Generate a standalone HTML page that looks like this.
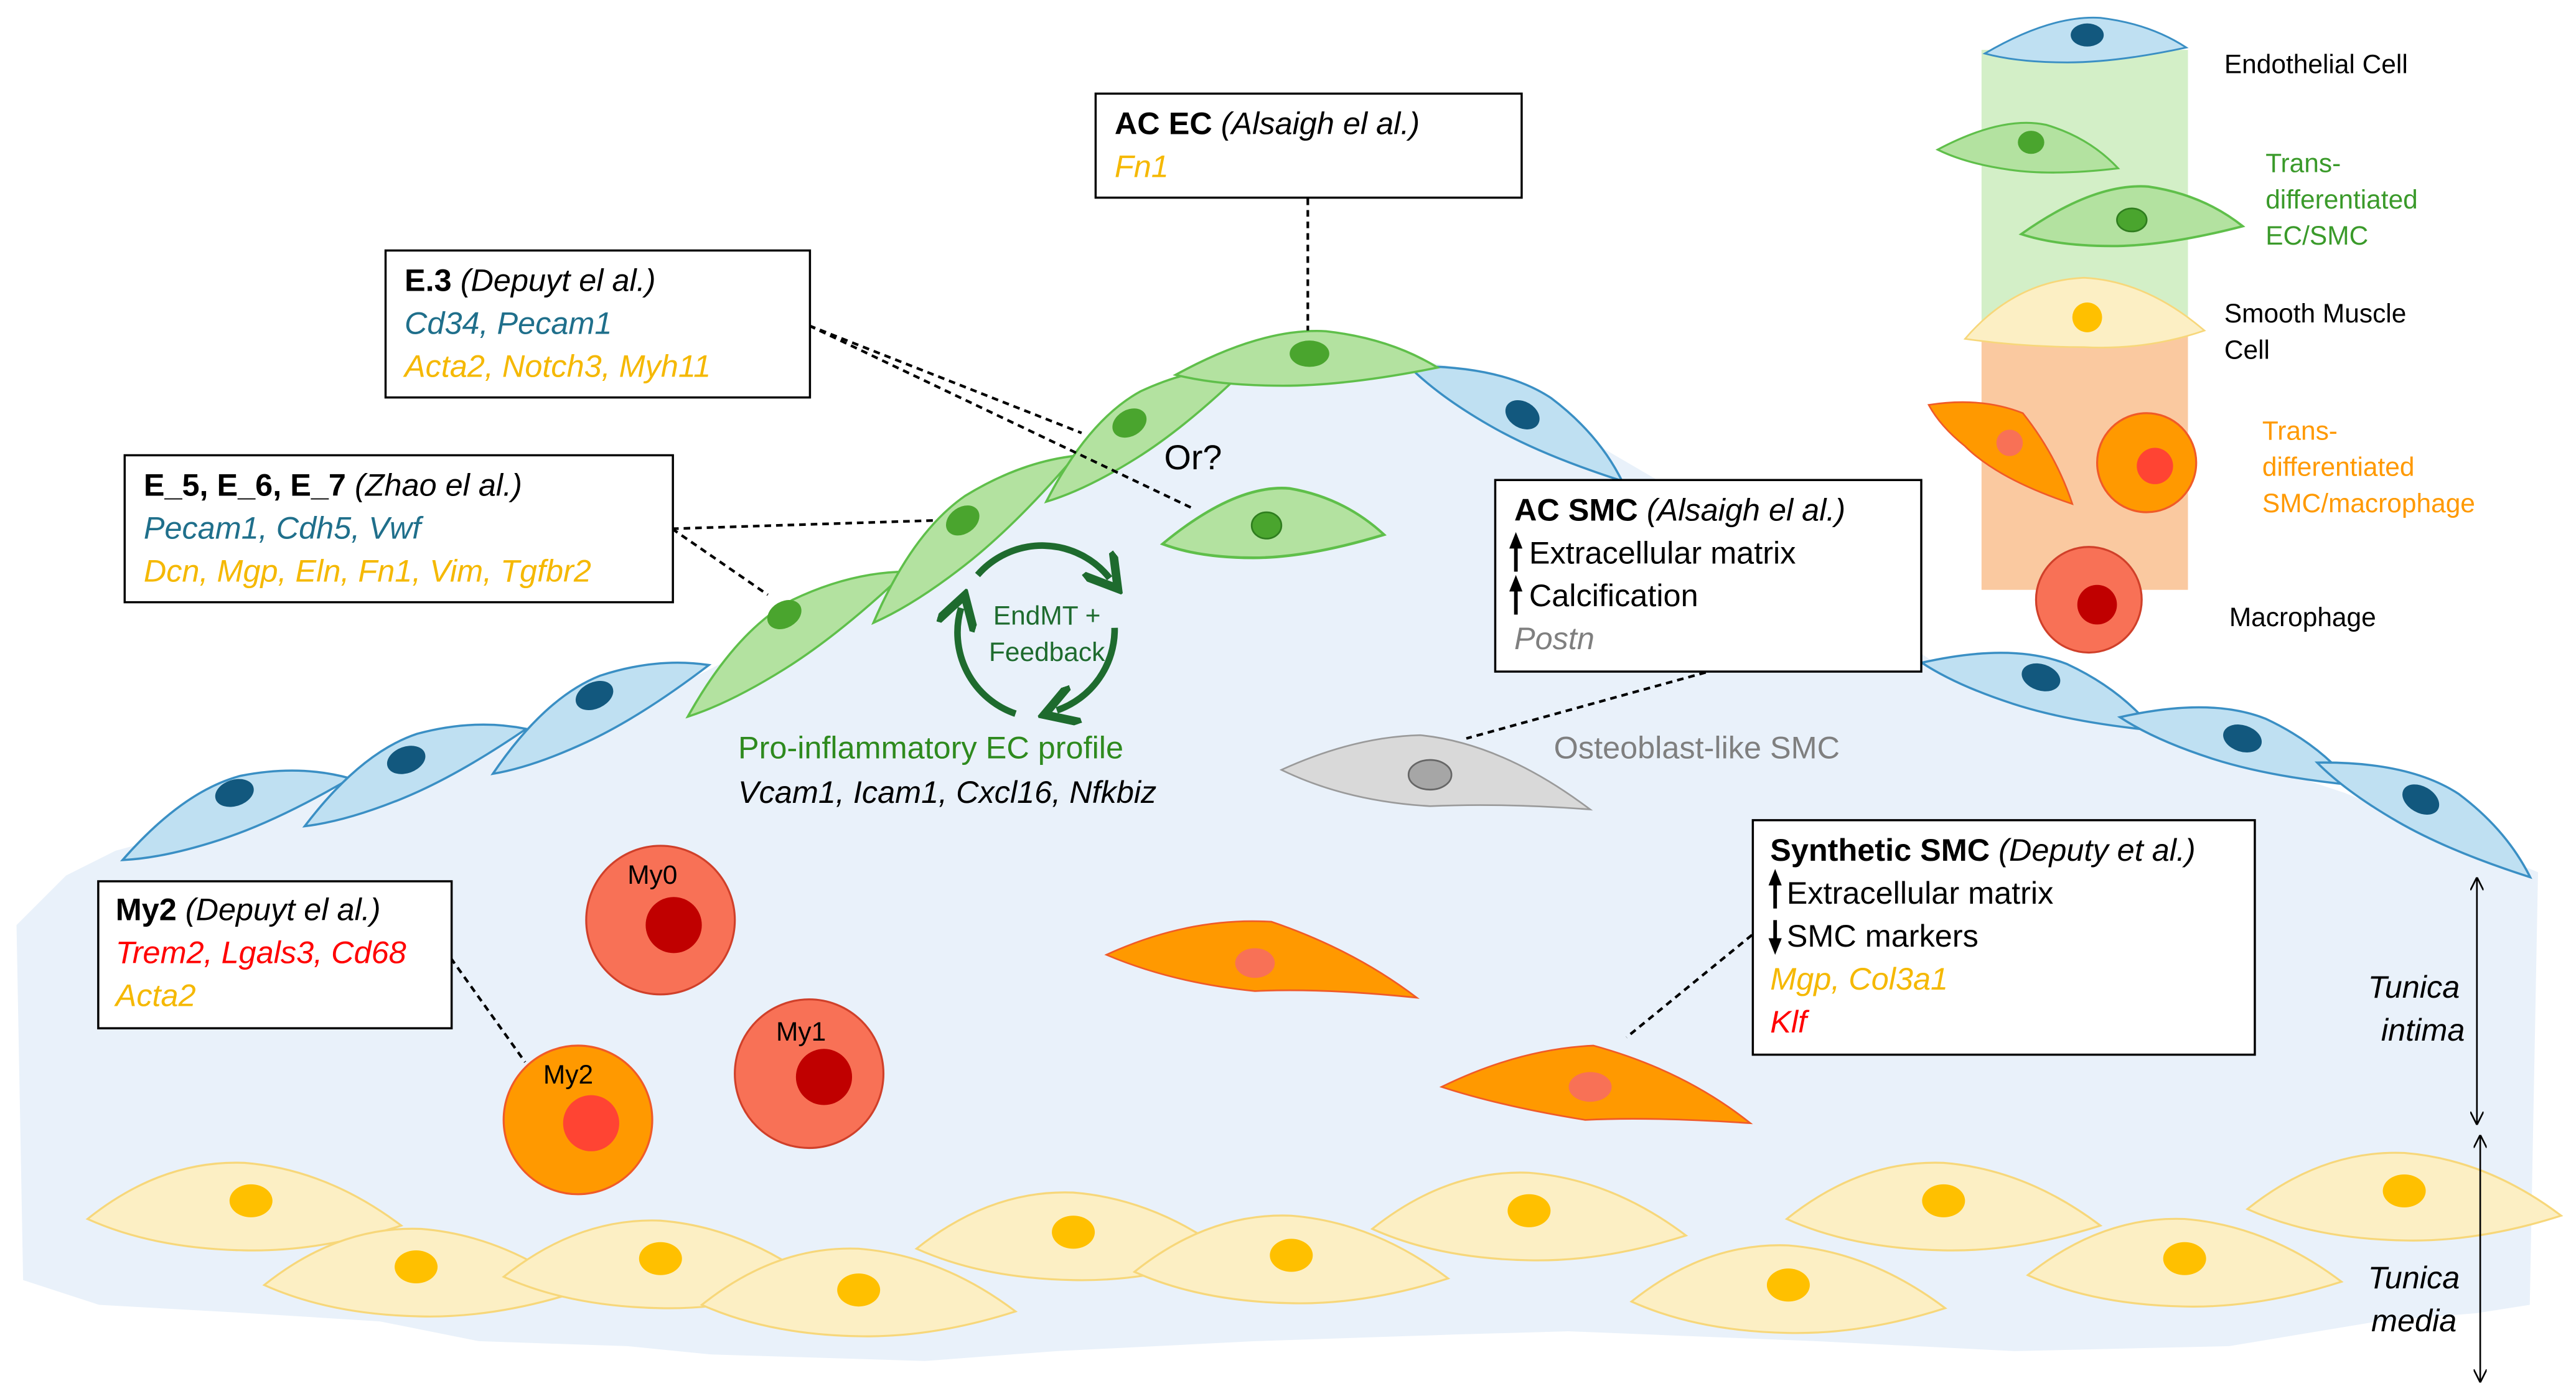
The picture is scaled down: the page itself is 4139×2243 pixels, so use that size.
<!DOCTYPE html>
<html><head><meta charset="utf-8"><style>
html,body{margin:0;padding:0;background:#fff;}
svg{display:block;}
text{font-family:"Liberation Sans",sans-serif;}
</style></head><body>
<svg width="4139" height="2243" viewBox="0 0 1560 845" xmlns="http://www.w3.org/2000/svg">
<defs>
<path id="sp" d="M-60,8 Q-20,-18 10,-16 Q40,-12 62,4 Q20,14 -10,14 Q-40,14 -60,8 Z"/>
<path id="ym" d="M-95,8 Q-50,-28 0,-26 Q50,-22 95,12 Q45,28 0,27 Q-55,26 -95,8 Z"/>
<marker id="ah" markerWidth="8" markerHeight="8" refX="7" refY="4" orient="auto-start-reverse"><path d="M0,0 L8,4 L0,8" fill="none" stroke="#000" stroke-width="1"/></marker>
<marker id="ga" markerWidth="6" markerHeight="6" refX="3" refY="3" orient="auto"><path d="M0,0 L5,3 L0,6" fill="none" stroke="#1e6b2e" stroke-width="1.3"/></marker>
</defs>
<!-- plaque -->
<path d="M70,515 L180,485 L300,450 L420,410 L520,360 L620,300 L700,240 L790,205 L880,222 L960,265 L1020,300 L1170,400 L1300,440 L1420,480 L1537,528 L1532,790 L1500,795 L1440,800 L1350,815 L1220,818 L1100,812 L950,806 L880,808 L760,812 L640,818 L560,824 L430,820 L380,815 L290,812 L230,800 L150,795 L60,790 L14,775 L10,560 L40,530 Z" fill="#e9f1fa"/>
<!-- legend columns -->
<rect x="1200" y="30" width="125" height="172" fill="#d3efc7"/>
<rect x="1200" y="200" width="125" height="157" fill="#fac9a0"/>
<!-- blue EC cells -->
<g fill="#bfe0f2" stroke="#3a8fc4" stroke-width="1.2">
<g transform="translate(140,490) rotate(-18) scale(1.2,1.1)"><use href="#sp"/></g>
<g transform="translate(248,465) rotate(-22) scale(1.2,1.1)"><use href="#sp"/></g>
<g transform="translate(360,430) rotate(-25) scale(1.2,1.1)"><use href="#sp"/></g>
<g transform="translate(920,250) rotate(30) scale(1.2,1.1)"><use href="#sp"/></g>
<g transform="translate(1235,415) rotate(18) scale(1.2,1.1)"><use href="#sp"/></g>
<g transform="translate(1355,448) rotate(18) scale(1.2,1.1)"><use href="#sp"/></g>
<g transform="translate(1470,490) rotate(30) scale(1.2,1.1)"><use href="#sp"/></g>
<g transform="translate(1262,25) scale(1.0,0.9)"><use href="#sp"/></g>
</g>
<g fill="#12587e">
<ellipse cx="142" cy="480" rx="12" ry="8" transform="rotate(-18 142 480)"/>
<ellipse cx="246" cy="460" rx="12" ry="8" transform="rotate(-20 246 460)"/>
<ellipse cx="360" cy="421" rx="12" ry="8" transform="rotate(-25 360 421)"/>
<ellipse cx="922" cy="251" rx="11" ry="8" transform="rotate(30 922 251)"/>
<ellipse cx="1236" cy="410" rx="12" ry="8" transform="rotate(18 1236 410)"/>
<ellipse cx="1358" cy="447" rx="12" ry="8" transform="rotate(18 1358 447)"/>
<ellipse cx="1466" cy="484" rx="12" ry="8" transform="rotate(30 1466 484)"/>
<ellipse cx="1264" cy="21" rx="10" ry="7"/>
</g>
<!-- green cells -->
<g fill="#b3e2a0" stroke="#5fbf4a" stroke-width="1.2">
<g transform="translate(478,385) rotate(-32) scale(1.3,1.1)"><use href="#sp"/></g>
<g transform="translate(585,322) rotate(-38) scale(1.3,1.1)"><use href="#sp"/></g>
<g transform="translate(690,258) rotate(-32) scale(1.2,1.1)"><use href="#sp"/></g>
<g transform="translate(790,218) scale(1.3,1.1)"><use href="#sp"/></g>
<g transform="translate(770,318) scale(1.1,1.4)"><use href="#sp"/></g>
<g transform="translate(1228,90) rotate(8) scale(0.9,1.0)"><use href="#sp"/></g>
<g transform="translate(1290,132) scale(1.1,1.2)"><use href="#sp"/></g>
</g>
<g fill="#4aa52e">
<ellipse cx="475" cy="372" rx="11" ry="8" transform="rotate(-30 475 372)"/>
<ellipse cx="583" cy="315" rx="11" ry="8" transform="rotate(-35 583 315)"/>
<ellipse cx="684" cy="256" rx="11" ry="8" transform="rotate(-30 684 256)"/>
<ellipse cx="793" cy="214" rx="12" ry="8"/>
<ellipse cx="767" cy="318" rx="9" ry="8" stroke="#2f7d1f"/>
<ellipse cx="1230" cy="86" rx="8" ry="7"/>
<ellipse cx="1291" cy="133" rx="9" ry="7" stroke="#2f7d1f"/>
</g>
<!-- yellow legend SMC -->
<path d="M1190,205 Q1220,170 1262,168 Q1300,170 1335,200 Q1300,212 1262,210 Q1225,210 1190,205 Z" fill="#fcefc4" stroke="#f7d77a"/>
<circle cx="1264" cy="192" r="9" fill="#ffc000"/>
<!-- media SMC -->
<g fill="#fcefc4" stroke="#f7d77a" stroke-width="1.2">
<g transform="translate(148,730)"><use href="#ym"/></g>
<g transform="translate(255,770)"><use href="#ym"/></g>
<g transform="translate(400,765)"><use href="#ym"/></g>
<g transform="translate(520,782)"><use href="#ym"/></g>
<g transform="translate(650,748)"><use href="#ym"/></g>
<g transform="translate(782,762)"><use href="#ym"/></g>
<g transform="translate(926,736)"><use href="#ym"/></g>
<g transform="translate(1083,780)"><use href="#ym"/></g>
<g transform="translate(1177,730)"><use href="#ym"/></g>
<g transform="translate(1323,764)"><use href="#ym"/></g>
<g transform="translate(1456,724)"><use href="#ym"/></g>
</g>
<g fill="#ffc000">
<ellipse cx="152" cy="727" rx="13" ry="10"/><ellipse cx="252" cy="767" rx="13" ry="10"/>
<ellipse cx="400" cy="762" rx="13" ry="10"/><ellipse cx="520" cy="781" rx="13" ry="10"/>
<ellipse cx="650" cy="746" rx="13" ry="10"/><ellipse cx="782" cy="760" rx="13" ry="10"/>
<ellipse cx="926" cy="733" rx="13" ry="10"/><ellipse cx="1083" cy="778" rx="13" ry="10"/>
<ellipse cx="1177" cy="727" rx="13" ry="10"/><ellipse cx="1323" cy="762" rx="13" ry="10"/>
<ellipse cx="1456" cy="721" rx="13" ry="10"/>
</g>
<!-- orange SMC -->
<path d="M670,578 Q720,555 770,558 Q820,575 858,604 Q800,598 760,600 Q710,595 670,578 Z" fill="#ff9900" stroke="#f05a28"/>
<ellipse cx="760" cy="583" rx="12" ry="9" fill="#f87156"/>
<path d="M873,658 Q920,635 965,633 Q1020,648 1060,680 Q1000,676 960,678 Q910,670 873,658 Z" fill="#ff9900" stroke="#f05a28"/>
<ellipse cx="963" cy="658" rx="13" ry="9" fill="#f87156"/>
<path d="M1168,245 Q1200,240 1225,250 Q1245,275 1255,305 Q1210,290 1190,270 Q1175,258 1168,245 Z" fill="#ff9900" stroke="#f05a28"/>
<circle cx="1217" cy="268" r="8" fill="#f87156"/>
<!-- gray osteoblast -->
<path d="M776,466 Q820,446 860,445 Q910,450 963,490 Q910,486 866,488 Q815,485 776,466 Z" fill="#d9d9d9" stroke="#9a9a9a"/>
<ellipse cx="866" cy="469" rx="13" ry="9" fill="#a6a6a6" stroke="#666"/>
<!-- macrophages -->
<g stroke-width="1.2">
<circle cx="400" cy="557" r="45" fill="#f87156" stroke="#d0402a"/>
<circle cx="408" cy="560" r="17" fill="#c00000"/>
<circle cx="490" cy="650" r="45" fill="#f87156" stroke="#d0402a"/>
<circle cx="499" cy="652" r="17" fill="#c00000"/>
<circle cx="350" cy="678" r="45" fill="#ff9900" stroke="#f05a28"/>
<circle cx="358" cy="680" r="17" fill="#ff4433"/>
<circle cx="1300" cy="280" r="30" fill="#ff9900" stroke="#f05a28"/>
<circle cx="1305" cy="282" r="11" fill="#ff4433"/>
<circle cx="1265" cy="363" r="32" fill="#f87156" stroke="#d0402a"/>
<circle cx="1270" cy="366" r="12" fill="#c00000"/>
</g>
<g font-size="16" fill="#000"><text x="380" y="535">My0</text><text x="470" y="630">My1</text><text x="329" y="656">My2</text></g>
<!-- EndMT loop -->
<g fill="none" stroke="#1e6b2e" stroke-width="4">
<path d="M592,348 A52,52 0 0 1 672,350" marker-end="url(#ga)"/>
<path d="M675,380 A52,52 0 0 1 640,430" marker-end="url(#ga)"/>
<path d="M615,432 A52,52 0 0 1 582,368" marker-end="url(#ga)"/>
</g>
<text x="634" y="378" font-size="16" fill="#1e6b2e" text-anchor="middle">EndMT +</text>
<text x="634" y="400" font-size="16" fill="#1e6b2e" text-anchor="middle">Feedback</text>
<text x="447" y="459" font-size="19" fill="#2e8a1e">Pro-inflammatory EC profile</text>
<text x="447" y="486" font-size="19" font-style="italic" fill="#000">Vcam1, Icam1, Cxcl16, Nfkbiz</text>
<text x="705" y="284" font-size="21">Or?</text>
<text x="941" y="459" font-size="19" fill="#7f7f7f">Osteoblast-like SMC</text>
<!-- dashed connectors -->
<g stroke="#000" stroke-width="1.6" stroke-dasharray="4 3" fill="none">
<line x1="792" y1="120" x2="792" y2="200"/>
<line x1="490" y1="197" x2="655" y2="262"/>
<line x1="490" y1="197" x2="723" y2="308"/>
<line x1="407" y1="320" x2="565" y2="315"/>
<line x1="407" y1="320" x2="465" y2="360"/>
<line x1="1033" y1="407" x2="888" y2="447"/>
<line x1="273" y1="580" x2="318" y2="643"/>
<line x1="1061" y1="566" x2="985" y2="628"/>
</g>
<!-- boxes -->
<g fill="#fff" stroke="#000" stroke-width="1.3">
<rect x="663.5" y="56.5" width="258" height="63"/>
<rect x="233.5" y="151.5" width="257" height="89"/>
<rect x="75.5" y="275.5" width="332" height="89"/>
<rect x="905.5" y="290.5" width="258" height="116"/>
<rect x="59.5" y="533.5" width="214" height="89"/>
<rect x="1061.5" y="496.5" width="304" height="142"/>
</g>
<g font-size="19">
<text x="675" y="81"><tspan font-weight="bold">AC EC</tspan> <tspan font-style="italic">(Alsaigh el al.)</tspan></text>
<text x="675" y="107" font-style="italic" fill="#f5b800">Fn1</text>
<text x="245" y="176"><tspan font-weight="bold">E.3</tspan> <tspan font-style="italic">(Depuyt el al.)</tspan></text>
<text x="245" y="202" font-style="italic" fill="#1f6f8b">Cd34, Pecam1</text>
<text x="245" y="228" font-style="italic" fill="#f5b800">Acta2, Notch3, Myh11</text>
<text x="87" y="300"><tspan font-weight="bold">E_5, E_6, E_7</tspan> <tspan font-style="italic">(Zhao el al.)</tspan></text>
<text x="87" y="326" font-style="italic" fill="#1f6f8b">Pecam1, Cdh5, Vwf</text>
<text x="87" y="352" font-style="italic" fill="#f5b800">Dcn, Mgp, Eln, Fn1, Vim, Tgfbr2</text>
<text x="917" y="315"><tspan font-weight="bold">AC SMC</tspan> <tspan font-style="italic">(Alsaigh el al.)</tspan></text>
<text x="926" y="341">Extracellular matrix</text>
<text x="926" y="367">Calcification</text>
<text x="917" y="393" font-style="italic" fill="#7f7f7f">Postn</text>
<text x="70" y="557"><tspan font-weight="bold">My2</tspan> <tspan font-style="italic">(Depuyt el al.)</tspan></text>
<text x="70" y="583" font-style="italic" fill="#ff0000">Trem2, Lgals3, Cd68</text>
<text x="70" y="609" font-style="italic" fill="#f5b800">Acta2</text>
<text x="1072" y="521"><tspan font-weight="bold">Synthetic SMC</tspan> <tspan font-style="italic">(Deputy et al.)</tspan></text>
<text x="1082" y="547">Extracellular matrix</text>
<text x="1082" y="573">SMC markers</text>
<text x="1072" y="599" font-style="italic" fill="#f5b800">Mgp, Col3a1</text>
<text x="1072" y="625" font-style="italic" fill="#ff0000">Klf</text>
</g>
<!-- small up/down arrows -->
<g stroke="#000" stroke-width="2.2" fill="#000">
<line x1="918" y1="346" x2="918" y2="330"/><path d="M914,332 L918,322 L922,332 Z" stroke="none"/>
<line x1="918" y1="372" x2="918" y2="356"/><path d="M914,358 L918,348 L922,358 Z" stroke="none"/>
<line x1="1075" y1="550" x2="1075" y2="534"/><path d="M1071,536 L1075,526 L1079,536 Z" stroke="none"/>
<line x1="1075" y1="557" x2="1075" y2="570"/><path d="M1071,568 L1075,578 L1079,568 Z" stroke="none"/>
</g>
<!-- tunica arrows -->
<g stroke="#000" stroke-width="1">
<line x1="1500" y1="532" x2="1500" y2="680" marker-start="url(#ah)" marker-end="url(#ah)"/>
<line x1="1502" y1="688" x2="1502" y2="836" marker-start="url(#ah)" marker-end="url(#ah)"/>
</g>
<g font-size="19" font-style="italic">
<text x="1434" y="604">Tunica</text><text x="1442" y="630">intima</text>
<text x="1434" y="780">Tunica</text><text x="1436" y="806">media</text>
</g>
<!-- legend labels -->
<g font-size="16">
<text x="1347" y="44">Endothelial Cell</text>
<text x="1372" y="104" fill="#3a9a2a">Trans-</text>
<text x="1372" y="126" fill="#3a9a2a">differentiated</text>
<text x="1372" y="148" fill="#3a9a2a">EC/SMC</text>
<text x="1347" y="195">Smooth Muscle</text>
<text x="1347" y="217">Cell</text>
<text x="1370" y="266" fill="#ff9900">Trans-</text>
<text x="1370" y="288" fill="#ff9900">differentiated</text>
<text x="1370" y="310" fill="#ff9900">SMC/macrophage</text>
<text x="1350" y="379">Macrophage</text>
</g>
</svg>
</body></html>
